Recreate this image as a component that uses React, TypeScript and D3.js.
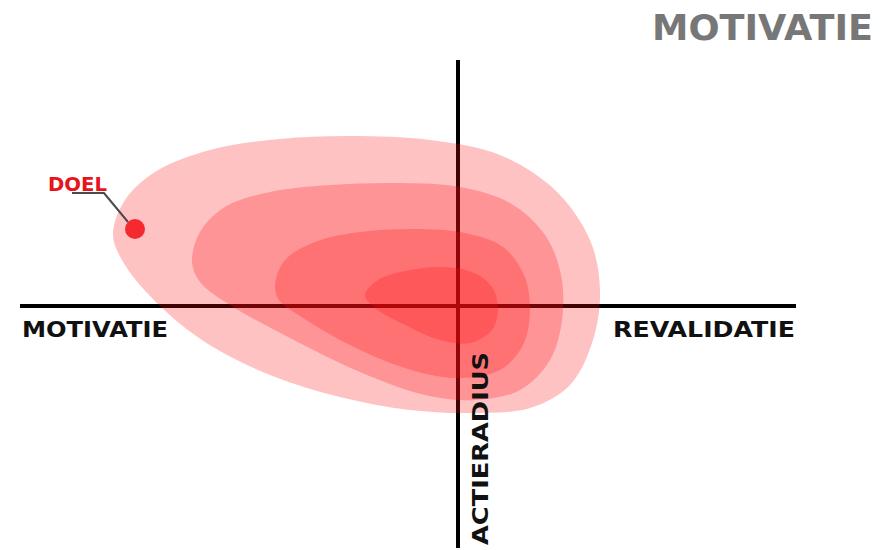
import React, { useEffect, useRef } from 'react';
import * as d3 from 'd3';

// contour rings, outer to inner, in axis units (x = motivatie <-> revalidatie, y = actieradius)
const ring1: [number, number][] = [
  [-34.5, 7.1], [-33.3, 10.6], [-30.3, 13.4], [-24.8, 15.6], [-17.8, 16.7], [-10.8, 17.0],
  [-2.8, 16.6], [4.2, 15.1], [9.7, 11.6], [13.2, 6.6], [14.2, 1.6], [13.5, -3.4],
  [11.2, -7.9], [7.2, -10.2], [1.2, -10.7], [-4.8, -10.4], [-11.8, -9.1], [-18.8, -6.9],
  [-25.3, -3.6], [-29.8, 0.0], [-33.3, 4.1],
];
const ring2: [number, number][] = [
  [-26.6, 4.4], [-25.8, 7.4], [-23.3, 9.9], [-18.8, 11.4], [-12.8, 12.1], [-5.8, 12.3],
  [0.2, 11.9], [5.2, 10.3], [8.7, 7.1], [10.3, 3.1], [10.4, -1.4], [9.2, -5.4],
  [6.2, -8.4], [1.7, -9.4], [-3.3, -8.9], [-9.8, -6.6], [-16.8, -3.2], [-22.8, 0.1],
  [-25.8, 2.4],
];
const ring3: [number, number][] = [
  [-18.3, 2.1], [-17.3, 4.6], [-14.3, 6.4], [-9.8, 7.4], [-4.3, 7.7], [0.7, 7.3],
  [4.5, 5.9], [6.6, 3.1], [7.2, -0.4], [6.5, -3.9], [4.2, -6.4], [-0.3, -7.2],
  [-5.3, -6.2], [-10.8, -3.9], [-15.8, -1.0], [-17.9, 0.6],
];
const ring4: [number, number][] = [
  [-9.3, 1.1], [-8.0, 2.6], [-5.3, 3.5], [-1.8, 3.9], [1.4, 3.4], [3.4, 1.9],
  [4.0, -0.2], [3.4, -2.4], [1.2, -3.7], [-1.8, -3.4], [-5.3, -1.9], [-8.3, -0.2],
];
const rings = [ring1, ring2, ring3, ring4];

const goal: [number, number] = [-32.3, 7.7];
const goalLabel = 'DOEL';
const title = 'MOTIVATIE';
const xLabels = ['MOTIVATIE', 'REVALIDATIE'];
const yLabel = 'ACTIERADIUS';

const App = () => {
  const chartRef = useRef<HTMLDivElement>(null);
  const width = 890;
  const height = 550;

  useEffect(() => {
    d3.select(chartRef.current).select('svg').remove();

    const x = d3.scaleLinear().domain([-43.8, 33.8]).range([20, 796]);
    const y = d3.scaleLinear().domain([-24.2, 24.6]).range([548, 60]);

    const svg = d3
      .select(chartRef.current)
      .append('svg')
      .attr('width', width)
      .attr('height', height)
      .style('position', 'absolute')
      .style('left', 0)
      .style('top', 0)
      .style('background', '#fff');

    const font = "'DejaVu Sans', sans-serif";

    // axes (under the blobs, so they get tinted)
    svg.append('line')
      .attr('x1', x(-43.8)).attr('x2', x(33.8))
      .attr('y1', y(0)).attr('y2', y(0))
      .attr('stroke', '#000').attr('stroke-width', 4);
    svg.append('line')
      .attr('x1', x(0)).attr('x2', x(0))
      .attr('y1', y(24.6)).attr('y2', y(-24.2))
      .attr('stroke', '#000').attr('stroke-width', 4);

    const line = d3.line<[number, number]>()
      .x(d => x(d[0]))
      .y(d => y(d[1]))
      .curve(d3.curveCatmullRomClosed.alpha(0.5));

    svg.selectAll('path.ring')
      .data(rings)
      .enter()
      .append('path')
      .attr('class', 'ring')
      .attr('d', d => line(d))
      .attr('fill', '#ff0a0f')
      .attr('fill-opacity', 0.25);

    // goal marker
    const gx = x(goal[0]);
    const gy = y(goal[1]);
    svg.append('polyline')
      .attr('points', `${gx - 7},${gy - 7} ${gx - 31},${gy - 36} ${gx - 63},${gy - 36}`)
      .attr('fill', 'none')
      .attr('stroke', '#4a4a4a')
      .attr('stroke-width', 2);
    svg.append('circle')
      .attr('cx', gx).attr('cy', gy).attr('r', 10)
      .attr('fill', '#f42a2f');
    svg.append('text')
      .attr('x', gx - 87).attr('y', gy - 38)
      .attr('font-family', font).attr('font-weight', 'bold')
      .attr('font-size', 19)
      .attr('textLength', 59).attr('lengthAdjust', 'spacingAndGlyphs')
      .attr('fill', '#e8141b')
      .text(goalLabel);

    // title
    svg.append('text')
      .attr('x', 652).attr('y', 40)
      .attr('font-family', font).attr('font-weight', 'bold')
      .attr('font-size', 36)
      .attr('textLength', 221).attr('lengthAdjust', 'spacingAndGlyphs')
      .attr('fill', '#777')
      .text(title);

    // axis labels
    svg.append('text')
      .attr('x', 22).attr('y', y(0) + 31)
      .attr('font-family', font).attr('font-weight', 'bold')
      .attr('font-size', 20.5)
      .attr('textLength', 146).attr('lengthAdjust', 'spacingAndGlyphs')
      .attr('fill', '#111')
      .text(xLabels[0]);
    svg.append('text')
      .attr('x', 613).attr('y', y(0) + 31)
      .attr('font-family', font).attr('font-weight', 'bold')
      .attr('font-size', 20.5)
      .attr('textLength', 182).attr('lengthAdjust', 'spacingAndGlyphs')
      .attr('fill', '#111')
      .text(xLabels[1]);
    svg.append('text')
      .attr('transform', `translate(${x(0) + 30},545) rotate(-90)`)
      .attr('font-family', font).attr('font-weight', 'bold')
      .attr('font-size', 20.5)
      .attr('textLength', 193).attr('lengthAdjust', 'spacingAndGlyphs')
      .attr('fill', '#111')
      .text(yLabel);
  }, []);

  return <div ref={chartRef}></div>;
};

export default App;
